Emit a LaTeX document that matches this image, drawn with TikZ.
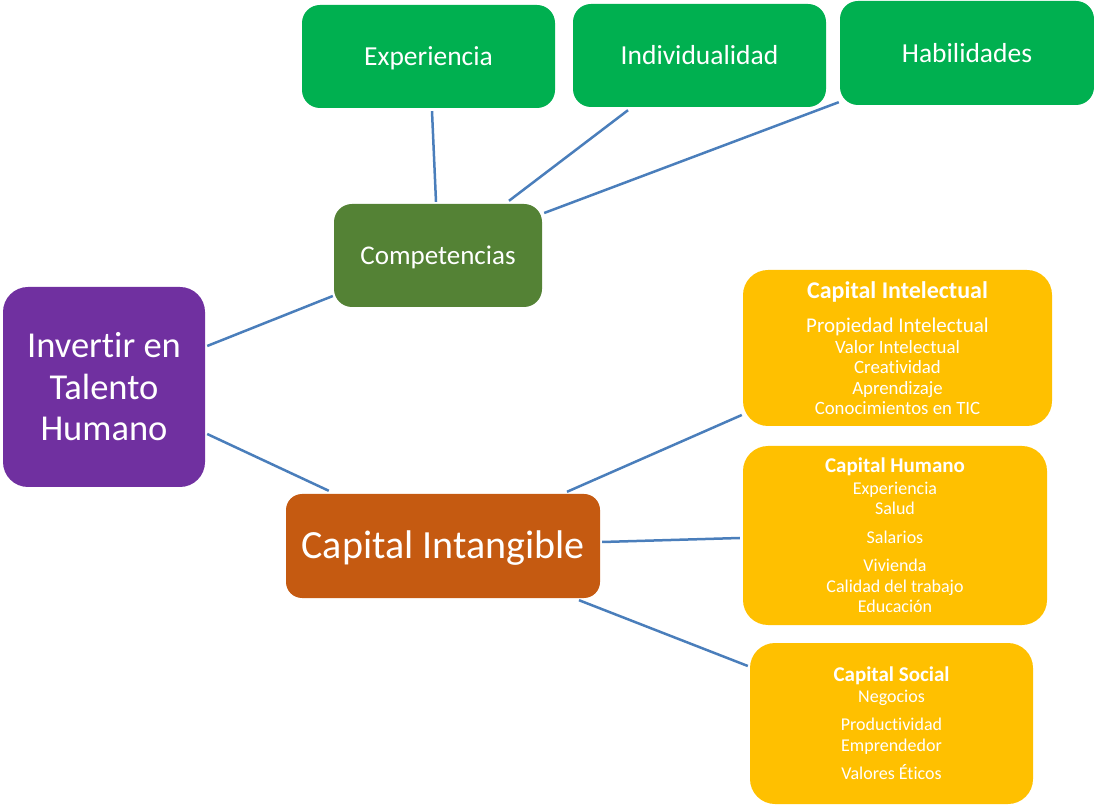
\documentclass[tikz,border=0pt]{standalone}
\usepackage{fontspec}
\setmainfont{Carlito}[Ligatures=NoCommon]
\definecolor{talento}{HTML}{7030A0}
\definecolor{compet}{HTML}{548235}
\definecolor{hoja}{HTML}{00B050}
\definecolor{intang}{HTML}{C55A11}
\definecolor{capital}{HTML}{FFC000}
\definecolor{enlace}{RGB}{74,126,187}
\tikzset{
  box/.style={rectangle, text=white, align=center, inner sep=0pt},
  rootbox/.style={box, fill=talento, rounded corners=25pt, minimum width=202pt, minimum height=200pt,
    font=\fontsize{36.5}{41.5}\selectfont},
  compbox/.style={box, fill=compet, rounded corners=18pt, font=\fontsize{27}{30}\selectfont},
  leafbox/.style={box, fill=hoja, rounded corners=18pt, minimum width=253pt, minimum height=103pt,
    font=\fontsize{27.5}{30}\selectfont},
  intbox/.style={box, fill=intang, rounded corners=16pt, minimum width=314pt, minimum height=104pt,
    font=\fontsize{40}{44}\selectfont},
  capbox/.style={box, fill=capital, rounded corners=25pt, font=\fontsize{18}{20.5}\selectfont},
  link/.style={draw=enlace, line width=2.5pt},
}
\newcommand{\captitle}[2][21]{{\bfseries\fontsize{#1}{20.5}\selectfont #2}}
\begin{document}
\begin{tikzpicture}[x=1pt, y=1pt]
\useasboundingbox (0,0) rectangle (1094,806);

% main concept
\node[rootbox] (inv) at (104,419) {Invertir en\\Talento\\Humano};

% competencies branch
\node[compbox, minimum width=208pt, minimum height=103pt, text height=24pt, text depth=5.5pt]
  (comp) at (438,550.5) {Competencias};
\node[leafbox, text height=23.5pt, text depth=5.5pt] (exp) at (428.5,749.5) {Experiencia};
\node[leafbox] (ind) at (699.5,750.5) {Individualidad};
\node[leafbox, minimum width=254pt, minimum height=104pt] (hab) at (967,753) {Habilidades};

% intangible capital branch
\node[intbox, text height=34pt, text depth=8pt] (ci) at (443,260) {Capital Intangible};

\node[capbox, minimum width=309pt, minimum height=156pt,
      font=\fontsize{18.8}{20.5}\selectfont] (intel) at (897.5,458)
  {\captitle[24]{Capital Intelectual}\\[14pt]
   {\fontsize{21}{20.5}\selectfont Propiedad Intelectual}\\
   Valor Intelectual\\Creatividad\\Aprendizaje\\Conocimientos en TIC};

\node[capbox, minimum width=304pt, minimum height=179pt] (hum) at (895,270.5)
  {\captitle{Capital Humano}\\[1pt]
   Experiencia\\Salud\\[8pt]Salarios\\[8pt]Vivienda\\Calidad del trabajo\\Educación};

\node[capbox, minimum width=283pt, minimum height=161pt] (soc) at (891.5,82.5)
  {\captitle{Capital Social}\\
   Negocios\\[8pt]Productividad\\Emprendedor\\[8pt]Valores Éticos};

% connectors
\draw[link] ([shift={(2,41)}]inv.east) -- ([shift={(-1,-40.5)}]comp.west);
\draw[link] ([shift={(2,-47)}]inv.east) -- ([shift={(43,3)}]ci.north west);
\draw[link] ([shift={(-2,2)}]comp.north) -- ([shift={(3.5,-3)}]exp.south);
\draw[link] ([shift={(71,3)}]comp.north) -- ([shift={(-71.5,-3)}]ind.south);
\draw[link] ([shift={(2,42.5)}]comp.east) -- ([shift={(-1,3)}]hab.south west);
\draw[link] ([shift={(124,2)}]ci.north) -- ([shift={(-1,-67)}]intel.west);
\draw[link] ([shift={(2,4)}]ci.east) -- ([shift={(-3,-2.5)}]hum.west);
\draw[link] ([shift={(136,-2)}]ci.south) -- ([shift={(-2,57.5)}]soc.west);
\end{tikzpicture}
\end{document}
